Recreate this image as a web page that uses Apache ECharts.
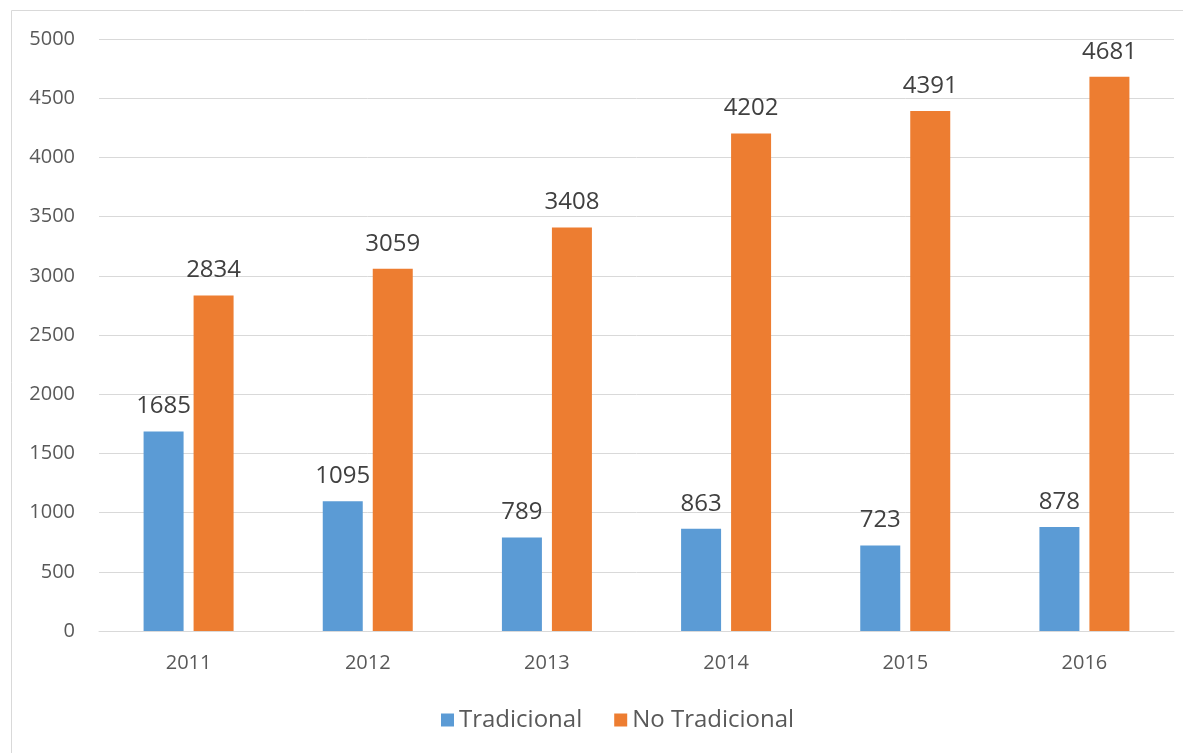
<!DOCTYPE html>
<html>
<head>
<meta charset="utf-8">
<script src="https://cdn.jsdelivr.net/npm/echarts@6/dist/echarts.min.js"></script>
<style>
html,body{margin:0;padding:0;background:#fff;}
#c{width:1183px;height:753px;}
</style>
</head>
<body>
<div id="c"></div>
<script>
const categories = ['2011','2012','2013','2014','2015','2016'];
const tradicional = [1685,1095,789,863,723,878];
const noTradicional = [2834,3059,3408,4202,4391,4681];
const seriesNames = ['Tradicional','No Tradicional'];

const chart = echarts.init(document.getElementById('c'));
const font = '"Open Sans", "Noto Sans", sans-serif';
chart.setOption({
  animation:false,
  textStyle:{fontFamily:font},
  graphic:[{type:'rect',shape:{x:11.5,y:10.5,width:1300,height:900},style:{fill:'none',stroke:'#d9d9d9',lineWidth:1}}],
  grid:{left:99,right:9,top:39,bottom:122,containLabel:false},
  legend:{
    data:seriesNames,bottom:16,left:436,
    icon:'rect',itemWidth:13,itemHeight:13,itemGap:32,
    textStyle:{fontSize:24,color:'#595959',fontFamily:font}
  },
  xAxis:{
    type:'category',data:categories,
    axisLine:{lineStyle:{color:'#d9d9d9'}},
    axisTick:{show:false},
    axisLabel:{fontSize:20,color:'#595959',margin:22}
  },
  yAxis:{
    type:'value',min:0,max:5000,interval:500,
    axisLine:{show:false},axisTick:{show:false},
    splitLine:{lineStyle:{color:'#d9d9d9'}},
    axisLabel:{fontSize:20,color:'#595959',margin:24,formatter:v=>String(v)}
  },
  series:[
    {name:seriesNames[0],type:'bar',data:tradicional,barWidth:40,barGap:'25%',
     itemStyle:{color:'#5B9BD5'},
     label:{show:true,position:'top',fontSize:24,color:'#404040',distance:13}},
    {name:seriesNames[1],type:'bar',data:noTradicional,barWidth:40,
     itemStyle:{color:'#ED7D31'},
     label:{show:true,position:'top',fontSize:24,color:'#404040',distance:13}}
  ]
});
</script>
</body>
</html>
